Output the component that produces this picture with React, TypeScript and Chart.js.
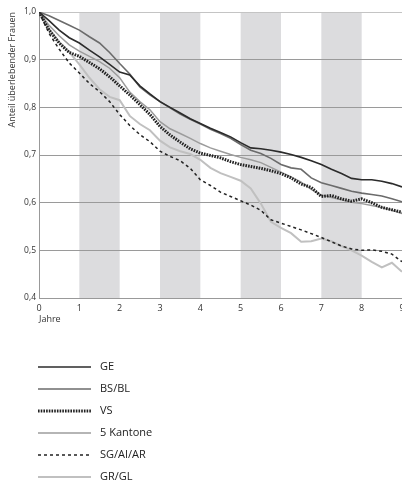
import React, { useEffect, useRef } from 'react';
import { Chart, registerables } from 'chart.js';

Chart.register(...registerables);

const years = [0, 0.25, 0.5, 0.75, 1, 1.25, 1.5, 1.75, 2, 2.25, 2.5, 2.75, 3, 3.25, 3.5, 3.75, 4, 4.25, 4.5, 4.75, 5, 5.25, 5.5, 5.75, 6, 6.25, 6.5, 6.75, 7, 7.25, 7.5, 7.75, 8, 8.25, 8.5, 8.75, 9];

const seriesNames = ['GE', 'BS/BL', 'VS', '5 Kantone', 'SG/AI/AR', 'GR/GL'];

const ge = [1.0, 0.982, 0.962, 0.946, 0.935, 0.92, 0.906, 0.89, 0.874, 0.868, 0.845, 0.828, 0.812, 0.8, 0.788, 0.776, 0.766, 0.756, 0.747, 0.738, 0.726, 0.715, 0.713, 0.71, 0.706, 0.701, 0.695, 0.688, 0.68, 0.67, 0.661, 0.651, 0.648, 0.648, 0.645, 0.64, 0.633];
const bsbl = [1.0, 0.992, 0.982, 0.972, 0.962, 0.948, 0.935, 0.915, 0.892, 0.87, 0.843, 0.826, 0.812, 0.799, 0.786, 0.775, 0.765, 0.754, 0.745, 0.735, 0.722, 0.71, 0.703, 0.693, 0.68, 0.673, 0.67, 0.652, 0.642, 0.636, 0.63, 0.624, 0.62, 0.617, 0.614, 0.608, 0.602];
const vs = [1.0, 0.962, 0.935, 0.915, 0.907, 0.894, 0.881, 0.864, 0.845, 0.826, 0.806, 0.785, 0.76, 0.742, 0.727, 0.713, 0.704, 0.699, 0.694, 0.686, 0.68, 0.676, 0.672, 0.667, 0.661, 0.652, 0.639, 0.632, 0.613, 0.615, 0.608, 0.603, 0.608, 0.6, 0.59, 0.585, 0.58];
const fuenfKantone = [1.0, 0.972, 0.95, 0.931, 0.918, 0.907, 0.896, 0.882, 0.862, 0.832, 0.812, 0.795, 0.77, 0.755, 0.745, 0.735, 0.724, 0.715, 0.708, 0.701, 0.695, 0.69, 0.684, 0.674, 0.664, 0.654, 0.643, 0.628, 0.616, 0.611, 0.606, 0.601, 0.598, 0.594, 0.59, 0.584, 0.577];
const sgaiar = [1.0, 0.955, 0.922, 0.893, 0.872, 0.85, 0.833, 0.812, 0.785, 0.762, 0.743, 0.728, 0.708, 0.697, 0.688, 0.672, 0.648, 0.636, 0.622, 0.613, 0.604, 0.595, 0.584, 0.564, 0.557, 0.55, 0.543, 0.535, 0.527, 0.518, 0.509, 0.503, 0.5, 0.501, 0.498, 0.492, 0.476];
const grgl = [1.0, 0.965, 0.937, 0.916, 0.89, 0.862, 0.838, 0.822, 0.815, 0.782, 0.765, 0.752, 0.73, 0.716, 0.708, 0.702, 0.69, 0.673, 0.662, 0.654, 0.646, 0.63, 0.598, 0.56, 0.547, 0.536, 0.518, 0.519, 0.525, 0.519, 0.509, 0.5, 0.489, 0.476, 0.464, 0.474, 0.455];

const shadedYears = [[1, 2], [3, 4], [5, 6], [7, 8]];

const yAxisTitle = 'Anteil überlebender Frauen';
const xAxisTitle = 'Jahre';

const FONT = '"Open Sans", "DejaVu Sans", sans-serif';

const styles = [
  { color: '#2b2b2b', width: 1.6, dash: [] as number[] },
  { color: '#6b6b6b', width: 1.6, dash: [] as number[] },
  { color: '#222222', width: 3, dash: [1.6, 1.1] },
  { color: '#9c9c9c', width: 1.5, dash: [] as number[] },
  { color: '#222222', width: 1.5, dash: [3, 3] },
  { color: '#c0c0c0', width: 2, dash: [] as number[] },
];

const bandsPlugin = {
  id: 'bands',
  beforeDraw(chart: any) {
    const { ctx, chartArea, scales } = chart;
    const x = scales.x;
    ctx.save();
    ctx.fillStyle = '#dcdcde';
    for (const [a, b] of shadedYears) {
      const x1 = x.getPixelForValue(a);
      const x2 = x.getPixelForValue(b);
      ctx.fillRect(x1, chartArea.top, x2 - x1, chartArea.bottom - chartArea.top);
    }
    ctx.restore();
  },
};

const legendPlugin = {
  id: 'customLegend',
  afterDraw(chart: any) {
    const ctx = chart.ctx;
    const startY = chart.chartArea.bottom + 69;
    chart.data.datasets.forEach((ds: any, i: number) => {
      const y = startY + 22 * i;
      ctx.save();
      ctx.strokeStyle = ds.borderColor;
      ctx.lineWidth = ds.borderWidth;
      ctx.setLineDash(ds.borderDash || []);
      ctx.beginPath();
      ctx.moveTo(38, y);
      ctx.lineTo(91, y);
      ctx.stroke();
      ctx.setLineDash([]);
      ctx.fillStyle = '#222';
      ctx.font = '11px ' + FONT;
      ctx.textBaseline = 'middle';
      ctx.textAlign = 'left';
      ctx.fillText(ds.label, 100, y);
      ctx.restore();
    });
  },
};

export default function App() {
  const canvasRef = useRef<HTMLCanvasElement | null>(null);

  useEffect(() => {
    if (!canvasRef.current) return;
    const allSeries = [ge, bsbl, vs, fuenfKantone, sgaiar, grgl];
    const chart = new Chart(canvasRef.current, {
      type: 'line',
      data: {
        datasets: allSeries.map((s, i) => ({
          label: seriesNames[i],
          data: years.map((x, j) => ({ x, y: s[j] })),
          borderColor: styles[i].color,
          borderWidth: styles[i].width,
          borderDash: styles[i].dash,
          pointRadius: 0,
          tension: 0,
          fill: false,
        })),
      },
      options: {
        responsive: false,
        animation: false,
        layout: { padding: { top: 12, left: 0, right: 0, bottom: 156 } },
        plugins: {
          legend: { display: false },
          tooltip: { enabled: false },
        },
        scales: {
          x: {
            type: 'linear',
            min: 0,
            max: 9,
            grid: { display: false, drawTicks: false },
            border: { display: true, color: '#999' },
            ticks: {
              stepSize: 1,
              padding: 5,
              maxRotation: 0,
              color: '#333',
              font: { family: FONT, size: 9 },
              callback: (v: any) => String(v),
            },
            title: {
              display: true,
              text: xAxisTitle,
              align: 'start',
              color: '#333',
              font: { family: FONT, size: 9 },
              padding: { top: 0, bottom: 3 },
            },
            afterFit: (scale: any) => {
              scale.height = 30;
              scale.paddingLeft = 0;
              scale.paddingRight = 0;
            },
          },
          y: {
            min: 0.4,
            max: 1.0,
            grid: {
              drawTicks: false,
              color: (ctx: any) => (ctx.tick && Math.abs(ctx.tick.value - 1) < 1e-6 ? '#c4c4c4' : '#9a9a9a'),
              lineWidth: 1,
            },
            border: { display: true, color: '#999' },
            ticks: {
              stepSize: 0.1,
              padding: 3,
              color: '#333',
              font: { family: FONT, size: 8.5 },
              callback: (v: any) => Number(v).toFixed(1).replace('.', ','),
            },
            title: {
              display: true,
              text: yAxisTitle,
              align: 'end',
              color: '#333',
              font: { family: FONT, size: 9 },
              padding: { top: 7, bottom: 0 },
            },
            afterFit: (scale: any) => {
              scale.width = 39;
              scale.paddingTop = 0;
              scale.paddingBottom = 0;
            },
          },
        },
      },
      plugins: [bandsPlugin, legendPlugin],
    });
    return () => chart.destroy();
  }, []);

  return (
    <div style={{ position: 'absolute', left: 0, top: 0, width: 402, height: 484, background: '#fff' }}>
      <canvas ref={canvasRef} width={402} height={484} style={{ width: 402, height: 484 }} />
    </div>
  );
}
